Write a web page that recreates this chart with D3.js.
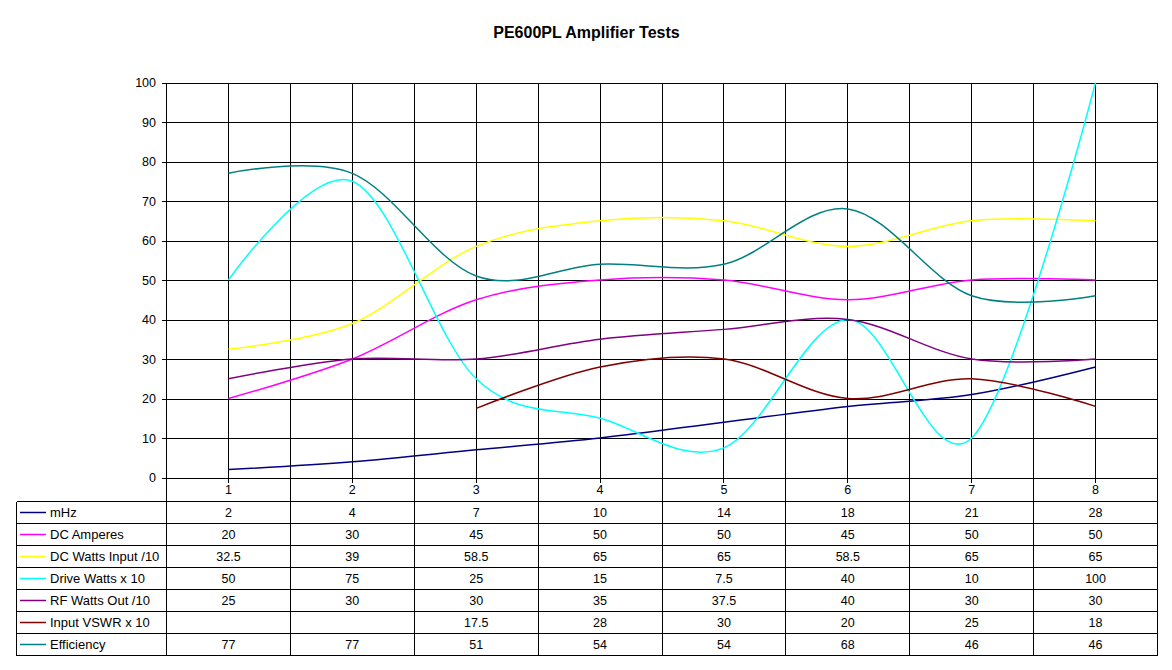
<!DOCTYPE html>
<html><head><meta charset="utf-8">
<script src="https://cdn.jsdelivr.net/npm/d3@7"></script>
<style>
body{margin:0;background:#fff;}
text{font-family:"Liberation Sans",Arial,sans-serif;}
</style></head>
<body><svg id="c" width="1172" height="670"></svg>
<script>
const categories = ["1","2","3","4","5","6","7","8"];
const seriesNames = ["mHz","DC Amperes","DC Watts Input /10","Drive Watts x 10","RF Watts Out /10","Input VSWR x 10","Efficiency"];
const mHz = [2,4,7,10,14,18,21,28];
const dcAmperes = [20,30,45,50,50,45,50,50];
const dcWattsInput = [32.5,39,58.5,65,65,58.5,65,65];
const driveWatts = [50,75,25,15,7.5,40,10,100];
const rfWattsOut = [25,30,30,35,37.5,40,30,30];
const inputVSWR = [null,null,17.5,28,30,20,25,18];
const efficiency = [77,77,51,54,54,68,46,46];
const yTicks = [0,10,20,30,40,50,60,70,80,90,100];
const colors = ["#000080","#FF00FF","#FFFF00","#00FFFF","#800080","#800000","#008080"];
const seriesData = [mHz,dcAmperes,dcWattsInput,driveWatts,rfWattsOut,inputVSWR,efficiency];

const svg = d3.select("#c");
const L=166.5, R=1157.5, T=82.5, B=477.5;
const x = d3.scaleBand().domain(categories).range([L,R]);
const y = d3.scaleLinear().domain([0,100]).range([B,T]);
const cx = c => x(c) + x.bandwidth()/2;

svg.append("text").attr("x",586.5).attr("y",38).attr("text-anchor","middle")
  .attr("font-size","16px").attr("font-weight","bold").text("PE600PL Amplifier Tests");

const g = svg.append("g").attr("shape-rendering","crispEdges").attr("stroke","#000").attr("stroke-width",1);
g.selectAll(".hg").data(yTicks).join("line")
  .attr("x1",L-5).attr("x2",R).attr("y1",d=>Math.round(y(d))+0.5).attr("y2",d=>Math.round(y(d))+0.5);
const vpos = [];
categories.forEach(c=>{ vpos.push(x(c)); vpos.push(cx(c)); });
vpos.push(R);
g.selectAll(".vg").data(vpos).join("line")
  .attr("x1",d=>Math.round(d-0.5)+0.5).attr("x2",d=>Math.round(d-0.5)+0.5).attr("y1",T).attr("y2",B);
g.selectAll(".tk").data(categories).join("line")
  .attr("x1",d=>Math.round(cx(d)-0.5)+0.5).attr("x2",d=>Math.round(cx(d)-0.5)+0.5).attr("y1",B).attr("y2",B+5);

svg.selectAll(".yl").data(yTicks).join("text")
  .attr("x",156).attr("y",d=>y(d)+4.5).attr("text-anchor","end").attr("font-size","12.5px").text(d=>d);

const rowH = 22;
const tTop = 501.5;
const tLeft = 16.5;
const nRows = seriesNames.length;
const tb = svg.append("g").attr("shape-rendering","crispEdges").attr("stroke","#000").attr("stroke-width",1);
for(let i=0;i<=nRows;i++){
  tb.append("line").attr("x1",tLeft).attr("x2",R).attr("y1",tTop+i*rowH).attr("y2",tTop+i*rowH);
}
tb.append("line").attr("x1",tLeft).attr("x2",tLeft).attr("y1",tTop).attr("y2",tTop+nRows*rowH);
const colEdges = categories.map(c=>x(c)).concat([R]);
tb.selectAll(".ce").data(colEdges).join("line")
  .attr("x1",d=>Math.round(d-0.5)+0.5).attr("x2",d=>Math.round(d-0.5)+0.5).attr("y1",B).attr("y2",tTop+nRows*rowH);

svg.selectAll(".cl").data(categories).join("text")
  .attr("x",d=>cx(d)).attr("y",494).attr("text-anchor","middle").attr("font-size","12.5px").text(d=>d);

seriesNames.forEach((name,i)=>{
  const ry = tTop + i*rowH + rowH/2;
  svg.append("line").attr("x1",20).attr("x2",46).attr("y1",ry).attr("y2",ry)
    .attr("stroke",colors[i]).attr("stroke-width",1.5);
  svg.append("text").attr("x",50).attr("y",ry+4.5).attr("font-size","13px").text(name);
  seriesData[i].forEach((v,j)=>{
    if(v===null) return;
    svg.append("text").attr("x",cx(categories[j])).attr("y",ry+4.5).attr("text-anchor","middle")
      .attr("font-size","12.5px").text(v);
  });
});

const line = d3.line()
  .defined(d=>d.v!==null)
  .x(d=>cx(d.c)).y(d=>y(d.v))
  .curve(d3.curveCardinal.tension(0));
seriesData.forEach((arr,i)=>{
  const pts = arr.map((v,j)=>({c:categories[j],v:v}));
  svg.append("path").attr("d",line(pts)).attr("fill","none")
    .attr("stroke",colors[i]).attr("stroke-width",1.5);
});
</script></body></html>
